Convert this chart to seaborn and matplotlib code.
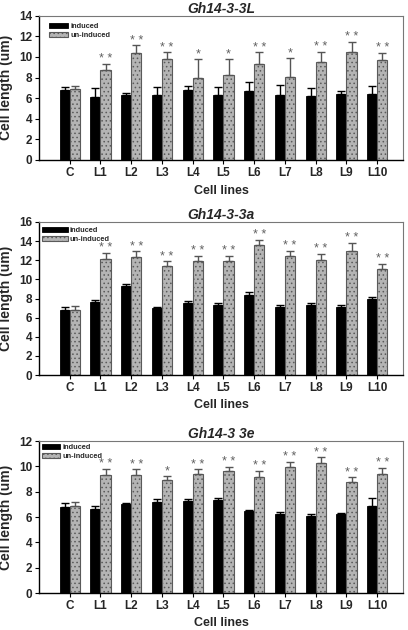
import numpy as np
import pandas as pd
import matplotlib
matplotlib.use("Agg")
import matplotlib.pyplot as plt
import seaborn as sns

# cell lines and treatment groups
lines = ["C", "L1", "L2", "L3", "L4", "L5", "L6", "L7", "L8", "L9", "L10"]
groups = ["induced", "un-induced"]

# Gh14-3-3L
L_ind = [6.8, 6.12, 6.28, 6.35, 6.8, 6.35, 6.67, 6.35, 6.22, 6.44, 6.41]
L_ind_err = [0.3, 0.9, 0.22, 0.73, 0.35, 0.73, 0.86, 0.93, 0.77, 0.26, 0.8]
L_un = [6.85, 8.75, 10.35, 9.78, 8.0, 8.24, 9.33, 8.1, 9.49, 10.45, 9.68]
L_un_err = [0.35, 0.55, 0.77, 0.67, 1.8, 1.54, 1.1, 1.77, 1.0, 1.0, 0.7]
L_marks = ["", "**", "**", "**", "*", "*", "**", "*", "**", "**", "**"]

# Gh14-3-3a
A_ind = [6.79, 7.67, 9.35, 7.0, 7.5, 7.28, 8.33, 7.1, 7.28, 7.1, 7.95]
A_ind_err = [0.35, 0.13, 0.17, 0.14, 0.2, 0.2, 0.35, 0.18, 0.2, 0.18, 0.24]
A_un = [6.83, 12.18, 12.32, 11.38, 11.97, 11.87, 13.62, 12.43, 12.04, 12.95, 11.1]
A_un_err = [0.35, 0.6, 0.6, 0.52, 0.49, 0.6, 0.53, 0.52, 0.6, 0.85, 0.52]
A_marks = ["", "**", "**", "**", "**", "**", "**", "**", "**", "**", "**"]

# Gh14-3 3e
E_ind = [6.8, 6.67, 7.01, 7.2, 7.25, 7.33, 6.46, 6.25, 6.07, 6.2, 6.83]
E_ind_err = [0.32, 0.18, 0.13, 0.2, 0.16, 0.16, 0.13, 0.13, 0.16, 0.13, 0.68]
E_un = [6.85, 9.32, 9.32, 8.93, 9.37, 9.61, 9.14, 9.95, 10.27, 8.74, 9.37]
E_un_err = [0.34, 0.5, 0.45, 0.31, 0.4, 0.34, 0.5, 0.42, 0.45, 0.4, 0.5]
E_marks = ["", "**", "**", "*", "**", "**", "**", "**", "**", "**", "**"]

sns.set_theme(style="white")
plt.rcParams['font.family'] = ['Liberation Sans', 'DejaVu Sans']
plt.rcParams['hatch.linewidth'] = 0.6

fig = plt.figure(figsize=(4.08, 6.3), dpi=100)
left, width = 39 / 408, (403 - 39) / 408


def panel(rect, title, ind, ind_err, un, un_err, marks, ymax, leg_xy, hlen):
    ax = fig.add_axes(rect)
    df = pd.DataFrame({
        "line": lines * 2,
        "group": ["induced"] * len(lines) + ["un-induced"] * len(lines),
        "length": ind + un,
    })
    sns.barplot(data=df, x="line", y="length", hue="group", order=lines,
                hue_order=groups, palette={"induced": "black", "un-induced": "#b4b4b4"},
                width=0.66, errorbar=None, saturation=1, legend=False, ax=ax)

    for bar in ax.containers[0]:
        bar.set_edgecolor("black")
        bar.set_linewidth(0.6)
    for bar in ax.containers[1]:
        bar.set_edgecolor("#5a5a5a")
        bar.set_hatch("....")
        bar.set_linewidth(0.8)

    # one-sided error bars + significance stars
    for cont, errs, col in [(ax.containers[0], ind_err, "black"), (ax.containers[1], un_err, "#555555")]:
        xs = np.array([b.get_x() + b.get_width() / 2 for b in cont])
        hs = np.array([b.get_height() for b in cont])
        ax.errorbar(xs, hs, yerr=[np.zeros(len(errs)), errs], fmt="none",
                    ecolor=col, elinewidth=1, capsize=3, capthick=1, zorder=3)
    for b, e, m in zip(ax.containers[1], un_err, marks):
        if m:
            ax.annotate(" ".join(m), (b.get_x() + b.get_width() / 2, b.get_height() + e),
                        xytext=(0, 1.2), textcoords="offset points", ha="center",
                        va="baseline", fontsize=9, color="#606060")

    ax.set_xlim(-1.0, 10.84)
    ax.set_ylim(0, ymax)
    ax.set_yticks(range(0, ymax + 1, 2))
    ax.tick_params(axis="both", which="both", direction="out", length=3, width=0.8,
                   labelsize=8.5, pad=2, bottom=True, left=True, color="black")
    for lab in ax.get_xticklabels() + ax.get_yticklabels():
        lab.set_fontweight("bold")
    for s in ["left", "bottom"]:
        ax.spines[s].set_color("black")
        ax.spines[s].set_linewidth(1.0)
    for s in ["top", "right"]:
        ax.spines[s].set_color("#777777")
        ax.spines[s].set_linewidth(0.8)

    ax.set_title(title, fontsize=10, fontweight="bold", fontstyle="italic", pad=2)
    ax.set_xlabel("Cell lines", fontsize=9, fontweight="bold", labelpad=4)
    ax.set_ylabel("Cell length (um)", fontsize=10, fontweight="bold", labelpad=4)

    ax.legend(handles=[ax.containers[0][0], ax.containers[1][0]], labels=groups,
              loc="upper left", bbox_to_anchor=leg_xy, frameon=False,
              prop={"size": 5.3, "weight": "bold"}, borderpad=0.2, borderaxespad=0,
              handlelength=hlen, handleheight=0.8, handletextpad=0.3, labelspacing=0.25)
    return ax


panel([left, 1 - 160 / 630, width, (160 - 15.7) / 630], "Gh14-3-3L",
      L_ind, L_ind_err, L_un, L_un_err, L_marks, 14, (0.023, 0.963), 2.6)
panel([left, 1 - 375 / 630, width, (375 - 222) / 630], "Gh14-3-3a",
      A_ind, A_ind_err, A_un, A_un_err, A_marks, 16, (0.004, 0.98), 3.5)
panel([left, 1 - 593 / 630, width, (593 - 441) / 630], "Gh14-3 3e",
      E_ind, E_ind_err, E_un, E_un_err, E_marks, 12, (0.004, 0.993), 2.5)

fig.savefig("out.png", dpi=100)
